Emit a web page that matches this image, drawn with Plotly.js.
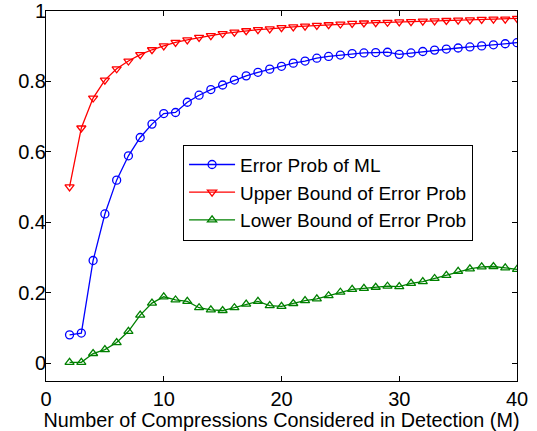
<!DOCTYPE html>
<html>
<head>
<meta charset="utf-8">
<script src="https://cdn.plot.ly/plotly-3.0.1.min.js"></script>
<style>html,body{margin:0;padding:0;background:#fff;}#chart{width:537px;height:431px;}</style>
</head>
<body>
<div id="chart"></div>
<script>
const M = [2,3,4,5,6,7,8,9,10,11,12,13,14,15,16,17,18,19,20,21,22,23,24,25,26,27,28,29,30,31,32,33,34,35,36,37,38,39,40];
const errorML = [0.081,0.086,0.292,0.424,0.520,0.589,0.641,0.679,0.709,0.712,0.741,0.761,0.777,0.790,0.804,0.816,0.826,0.835,0.843,0.852,0.858,0.866,0.871,0.875,0.879,0.881,0.882,0.883,0.877,0.881,0.885,0.889,0.892,0.895,0.898,0.901,0.904,0.907,0.910];
const upperBound = [0.501,0.668,0.753,0.804,0.836,0.858,0.876,0.890,0.901,0.911,0.918,0.925,0.930,0.936,0.940,0.944,0.947,0.949,0.953,0.955,0.957,0.959,0.961,0.963,0.965,0.966,0.967,0.968,0.969,0.970,0.971,0.972,0.973,0.974,0.975,0.976,0.977,0.977,0.979];
const lowerBound = [0.003,0.003,0.028,0.039,0.059,0.091,0.137,0.171,0.189,0.180,0.176,0.158,0.152,0.150,0.158,0.168,0.176,0.164,0.162,0.170,0.178,0.183,0.192,0.202,0.210,0.213,0.216,0.219,0.218,0.227,0.232,0.241,0.250,0.261,0.268,0.274,0.275,0.271,0.267];
const seriesNames = ['Error Prob of ML','Upper Bound of Error Prob','Lower Bound of Error Prob'];
const xTicks = [0,10,20,30,40];
const yTicks = [0,0.2,0.4,0.6,0.8,1];
const yTickLabels = ['0','0.2','0.4','0.6','0.8','1'];

const FONT = 'Liberation Sans, Arial, Helvetica, sans-serif';
function tr(y, name, color, symbol) {
  return {x: M, y: y, name: name, type: 'scatter', mode: 'lines+markers',
    line: {color: color, width: 1.3},
    marker: {symbol: symbol, size: 8, color: color, line: {color: color, width: 1.3}}};
}
const data = [
  tr(errorML, seriesNames[0], '#0000ff', 'circle-open'),
  tr(upperBound, seriesNames[1], '#ff0000', 'triangle-down-open'),
  tr(lowerBound, seriesNames[2], '#008000', 'triangle-up-open')
];
const axisCommon = {showgrid: false, zeroline: false, showline: true, linecolor: '#000', linewidth: 1,
  mirror: 'ticks', ticks: 'inside', ticklen: 5, tickcolor: '#000', tickwidth: 1,
  tickfont: {family: FONT, size: 20, color: '#000'}};
const layout = {
  width: 537, height: 431,
  margin: {l: 46, r: 20, t: 11, b: 49.5},
  paper_bgcolor: '#fff', plot_bgcolor: '#fff',
  font: {family: FONT, color: '#000'},
  showlegend: true,
  legend: {x: 0.291, y: 0.509, xanchor: 'left', yanchor: 'middle', bgcolor: '#fff',
    bordercolor: '#000', borderwidth: 1, font: {family: FONT, size: 19, color: '#000'},
    itemwidth: 46, tracegroupgap: 0},
  xaxis: Object.assign({}, axisCommon, {range: [0, 40], tickvals: xTicks, ticktext: xTicks.map(String),
    title: {text: 'Number of Compressions Considered in Detection (M)', font: {family: FONT, size: 19.8, color: '#000'}, standoff: 7}}),
  yaxis: Object.assign({}, axisCommon, {range: [-0.05, 1], tickvals: yTicks, ticktext: yTickLabels, ticklabelstandoff: -5})
};
Plotly.newPlot('chart', data, layout, {displayModeBar: false, staticPlot: true});
</script>
</body>
</html>
